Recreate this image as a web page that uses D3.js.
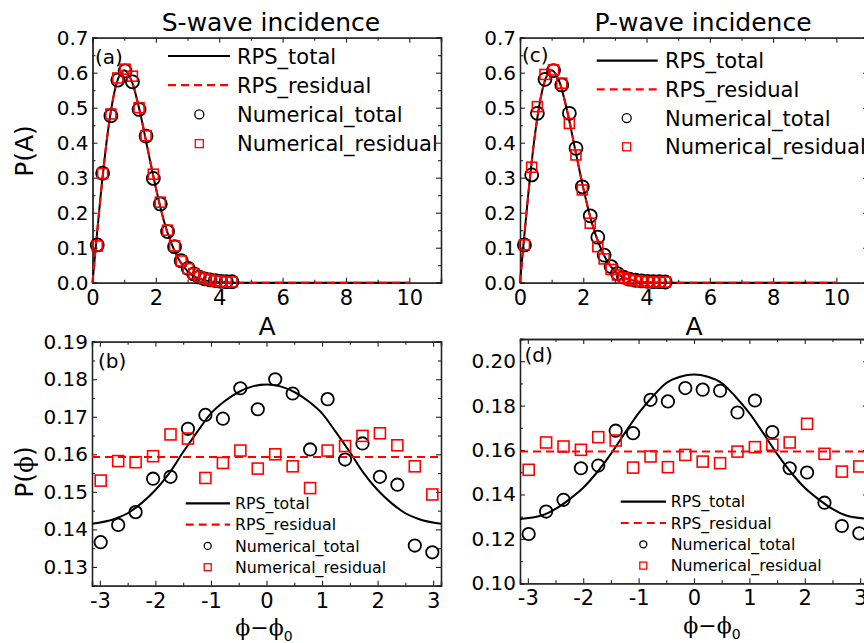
<!DOCTYPE html>
<html>
<head>
<meta charset="utf-8">
<script src="https://cdn.jsdelivr.net/npm/d3@7"></script>
<style>
  body { margin: 0; background: #fff; }
  svg { display: block; font-family: "DejaVu Sans", Arial, sans-serif; }
</style>
</head>
<body>
<svg id="chart"></svg>
<script>
// ---- data ----
const legendNames = ["RPS_total", "RPS_residual", "Numerical_total", "Numerical_residual"];

// amplitude distributions (a) S-wave, (c) P-wave
const curveA = [0, 0.1, 0.25, 0.5, 0.75, 1, 1.25, 1.5, 1.75, 2, 2.25, 2.5, 2.75, 3, 3.25, 3.5, 3.75, 4, 4.5, 5, 6, 7, 8, 9, 10];
const rpsTotalA = [0, 0.099, 0.242, 0.441, 0.566, 0.607, 0.573, 0.487, 0.378, 0.271, 0.178, 0.110, 0.063, 0.033, 0.016, 0.008, 0.003, 0.001, 0, 0, 0, 0, 0, 0, 0];
const rpsResidualA = [0, 0.099, 0.242, 0.441, 0.566, 0.607, 0.573, 0.487, 0.378, 0.271, 0.178, 0.110, 0.063, 0.033, 0.016, 0.008, 0.003, 0.001, 0, 0, 0, 0, 0, 0, 0];

const sA = [0.15, 0.32, 0.58, 0.80, 1.03, 1.26, 1.47, 1.69, 1.92, 2.14, 2.37, 2.59, 2.80, 3.02, 3.20, 3.37, 3.54, 3.71, 3.88, 4.05, 4.22, 4.40];
const sNumTotal = [0.108, 0.313, 0.477, 0.579, 0.605, 0.574, 0.495, 0.419, 0.298, 0.225, 0.146, 0.103, 0.063, 0.041, 0.025, 0.016, 0.011, 0.008, 0.006, 0.004, 0.003, 0.003];
const sNumResidual = [0.105, 0.312, 0.482, 0.585, 0.610, 0.590, 0.500, 0.420, 0.310, 0.230, 0.150, 0.105, 0.062, 0.040, 0.026, 0.017, 0.012, 0.008, 0.005, 0.004, 0.002, 0.002];

const pA = [0.14, 0.37, 0.55, 0.79, 1.06, 1.32, 1.56, 1.77, 1.97, 2.22, 2.46, 2.66, 2.88, 3.08, 3.27, 3.46, 3.65, 3.84, 4.03, 4.22, 4.41, 4.59];
const pNumTotal = [0.108, 0.308, 0.484, 0.581, 0.606, 0.565, 0.484, 0.384, 0.274, 0.191, 0.130, 0.079, 0.046, 0.026, 0.016, 0.010, 0.007, 0.005, 0.004, 0.003, 0.003, 0.002];
const pNumResidual = [0.108, 0.330, 0.503, 0.595, 0.608, 0.570, 0.455, 0.365, 0.265, 0.170, 0.103, 0.068, 0.038, 0.022, 0.014, 0.009, 0.006, 0.004, 0.003, 0.002, 0.002, 0.002];

// phase distributions (b) S-wave, (d) P-wave
const curvePhi = [-3.1416, -2.75, -2.5, -2.25, -2, -1.75, -1.5, -1.25, -1, -0.75, -0.5, -0.25, 0, 0.25, 0.5, 0.75, 1, 1.25, 1.5, 1.75, 2, 2.25, 2.5, 2.75, 3.1416];
const sRpsTotalPhi = [0.1415, 0.1427, 0.1443, 0.1470, 0.1505, 0.1550, 0.1606, 0.1659, 0.1709, 0.1742, 0.1766, 0.1781, 0.1786, 0.1781, 0.1766, 0.1742, 0.1709, 0.1659, 0.1606, 0.1550, 0.1505, 0.1470, 0.1443, 0.1427, 0.1415];
const pRpsTotalPhi = [0.1290, 0.1305, 0.1335, 0.1378, 0.1430, 0.1500, 0.1583, 0.1676, 0.1766, 0.1840, 0.1902, 0.1930, 0.1940, 0.1930, 0.1902, 0.1840, 0.1766, 0.1676, 0.1583, 0.1500, 0.1430, 0.1378, 0.1335, 0.1305, 0.1290];
const residualPhi = [-3.1416, 3.1416];
const sRpsResidualPhi = [0.1593, 0.1593];
const pRpsResidualPhi = [0.1593, 0.1593];

const phiBins = [-2.985, -2.670, -2.356, -2.042, -1.728, -1.414, -1.100, -0.785, -0.471, -0.157, 0.157, 0.471, 0.785, 1.100, 1.414, 1.728, 2.042, 2.356, 2.670, 2.985];
const sPhiNumTotal = [0.1366, 0.1412, 0.1446, 0.1535, 0.1540, 0.1668, 0.1705, 0.1695, 0.1776, 0.1720, 0.1800, 0.1762, 0.1613, 0.1747, 0.1586, 0.1629, 0.1540, 0.1519, 0.1357, 0.1339];
const sPhiNumResidual = [0.1530, 0.1582, 0.1579, 0.1595, 0.1653, 0.1642, 0.1537, 0.1577, 0.1610, 0.1562, 0.1600, 0.1568, 0.1510, 0.1610, 0.1622, 0.1649, 0.1656, 0.1624, 0.1568, 0.1493];
const pPhiNumTotal = [0.1222, 0.1323, 0.1376, 0.1518, 0.1530, 0.1687, 0.1676, 0.1826, 0.1819, 0.1879, 0.1872, 0.1867, 0.1769, 0.1823, 0.1681, 0.1518, 0.1499, 0.1363, 0.1258, 0.1225];
const pPhiNumResidual = [0.1511, 0.1634, 0.1616, 0.1601, 0.1658, 0.1643, 0.1521, 0.1571, 0.1523, 0.1578, 0.1548, 0.1541, 0.1593, 0.1613, 0.1624, 0.1634, 0.1718, 0.1583, 0.1503, 0.1526];

// ticks
const ampTicks = [0, 2, 4, 6, 8, 10];
const ampMinor = [1, 3, 5, 7, 9, 11];
const ampYTicks = [0, 0.1, 0.2, 0.3, 0.4, 0.5, 0.6, 0.7];
const ampYMinor = [0.05, 0.15, 0.25, 0.35, 0.45, 0.55, 0.65];
const phiTicks = [-3, -2, -1, 0, 1, 2, 3];
const phiMinor = [-2.5, -1.5, -0.5, 0.5, 1.5, 2.5];
const bYTicks = [0.13, 0.14, 0.15, 0.16, 0.17, 0.18, 0.19];
const bYMinor = [0.135, 0.145, 0.155, 0.165, 0.175, 0.185];
const dYTicks = [0.10, 0.12, 0.14, 0.16, 0.18, 0.20];
const dYMinor = [0.11, 0.13, 0.15, 0.17, 0.19];

// ---- drawing ----
const W = 864, H = 643;
const RED = "#ff0000";
const SANS = '"DejaVu Sans", Arial, sans-serif';
const SERIF = '"DejaVu Serif", "Liberation Serif", serif';
const svg = d3.select("#chart").attr("width", W).attr("height", H);
svg.append("rect").attr("width", W).attr("height", H).attr("fill", "#fff");

function panel(o) {
    const x = d3.scaleLinear().domain(o.xDomain).range([o.left, o.right]);
    const y = d3.scaleLinear().domain(o.yDomain).range([o.bottom, o.top]);
    const g = svg.append("g");

    const axis = (gen, pos, values, size, fmt, fs, pad) => {
        const a = g.append("g").attr("transform", pos)
            .call(gen.tickValues(values).tickSize(size).tickPadding(pad || 0).tickFormat(fmt || ""));
        a.select(".domain").attr("stroke", "#222").attr("stroke-width", 1.3);
        a.selectAll(".tick line").attr("stroke", "#222").attr("stroke-width", 1.1);
        a.selectAll("text").attr("font-size", fs || 0).attr("fill", "#000").style("font-family", SANS);
        return a;
    };
    // bottom / left carry the labels, top / right only ticks; all ticks point inward
    axis(d3.axisBottom(x), `translate(0,${o.bottom})`, o.xTicks, -5, d => String(d), 21, 7);
    axis(d3.axisBottom(x), `translate(0,${o.bottom})`, o.xMinor.filter(v => v <= o.xDomain[1]), -3);
    axis(d3.axisTop(x), `translate(0,${o.top})`, o.xTicks, -5);
    axis(d3.axisTop(x), `translate(0,${o.top})`, o.xMinor.filter(v => v <= o.xDomain[1]), -3);
    axis(d3.axisLeft(y), `translate(${o.left},0)`, o.yTicks, -5, d3.format(o.yFmt), 20, 4);
    axis(d3.axisLeft(y), `translate(${o.left},0)`, o.yMinor, -3);
    axis(d3.axisRight(y), `translate(${o.right},0)`, o.yTicks, -5);
    axis(d3.axisRight(y), `translate(${o.right},0)`, o.yMinor, -3);

    const line = d3.line().x(d => x(d[0])).y(d => y(d[1])).curve(d3.curveMonotoneX);
    g.append("path").attr("d", line(d3.zip(o.curveX, o.total)))
        .attr("fill", "none").attr("stroke", "#000").attr("stroke-width", 2);
    g.append("path").attr("d", line(d3.zip(o.resX, o.residual)))
        .attr("fill", "none").attr("stroke", RED).attr("stroke-width", 2)
        .attr("stroke-dasharray", "8,5");

    g.append("g").selectAll("circle").data(d3.zip(o.numTotalX, o.numTotal)).join("circle")
        .attr("cx", d => x(d[0])).attr("cy", d => y(d[1])).attr("r", o.r)
        .attr("fill", "none").attr("stroke", "#000").attr("stroke-width", 1.8);
    g.append("g").selectAll("rect").data(d3.zip(o.numResX, o.numRes)).join("rect")
        .attr("x", d => x(d[0]) - o.sq / 2).attr("y", d => y(d[1]) - o.sq / 2)
        .attr("width", o.sq).attr("height", o.sq)
        .attr("fill", "none").attr("stroke", RED).attr("stroke-width", 1.6);

    // panel tag
    g.append("text").attr("x", o.tag[1]).attr("y", o.tag[2]).attr("font-size", 20).text(o.tag[0]);

    // legend
    const L = o.legend;
    legendNames.forEach((name, i) => {
        const ly = L.y + i * L.dy;
        if (i === 0) g.append("line").attr("x1", L.x0).attr("x2", L.x1).attr("y1", ly).attr("y2", ly)
            .attr("stroke", "#000").attr("stroke-width", 2.2);
        if (i === 1) g.append("line").attr("x1", L.x0).attr("x2", L.x1).attr("y1", ly).attr("y2", ly)
            .attr("stroke", RED).attr("stroke-width", 2.2).attr("stroke-dasharray", "8,5");
        if (i === 2) g.append("circle").attr("cx", L.mx).attr("cy", ly).attr("r", L.r)
            .attr("fill", "none").attr("stroke", "#000").attr("stroke-width", 1.3);
        if (i === 3) g.append("rect").attr("x", L.mx - L.sq / 2).attr("y", ly - L.sq / 2)
            .attr("width", L.sq).attr("height", L.sq)
            .attr("fill", "none").attr("stroke", RED).attr("stroke-width", 1.3);
        g.append("text").attr("x", L.tx).attr("y", ly).attr("dy", "0.36em")
            .attr("font-size", L.fs).text(name);
    });
    return { x, y };
}

const ampCommon = {
    xDomain: [0, 11], yDomain: [0, 0.7], top: 37.7, bottom: 282.7,
    xTicks: ampTicks, xMinor: ampMinor, yTicks: ampYTicks, yMinor: ampYMinor, yFmt: ".1f",
    curveX: curveA, total: rpsTotalA, resX: curveA, residual: rpsResidualA, r: 6.5, sq: 10
};
panel(Object.assign({}, ampCommon, {
    left: 92.5, right: 441,
    numTotalX: sA, numTotal: sNumTotal, numResX: sA, numRes: sNumResidual,
    tag: ["(a)", 95, 64],
    legend: { x0: 168, x1: 230, mx: 199.3, tx: 237, y: 56, dy: 29.2, r: 4.5, sq: 8, fs: 21 }
}));
panel(Object.assign({}, ampCommon, {
    left: 520, right: 868,
    numTotalX: pA, numTotal: pNumTotal, numResX: pA, numRes: pNumResidual,
    tag: ["(c)", 522, 62],
    legend: { x0: 596.7, x1: 657.7, mx: 626.7, tx: 665, y: 60.7, dy: 28.7, r: 4.5, sq: 8, fs: 21 }
}));
panel({
    xDomain: [-Math.PI, Math.PI], yDomain: [0.125, 0.19], left: 92, right: 441, top: 341.7, bottom: 585.7,
    xTicks: phiTicks, xMinor: phiMinor, yTicks: bYTicks, yMinor: bYMinor, yFmt: ".2f",
    curveX: curvePhi, total: sRpsTotalPhi, resX: residualPhi, residual: sRpsResidualPhi,
    numTotalX: phiBins, numTotal: sPhiNumTotal, numResX: phiBins, numRes: sPhiNumResidual,
    r: 6.2, sq: 11,
    tag: ["(b)", 98, 368],
    legend: { x0: 185.7, x1: 230, mx: 207.7, tx: 235, y: 503.3, dy: 21.3, r: 3.5, sq: 7, fs: 15.8 }
});
panel({
    xDomain: [-Math.PI, Math.PI], yDomain: [0.10, 0.21], left: 520, right: 868, top: 339, bottom: 583.3,
    xTicks: phiTicks, xMinor: phiMinor, yTicks: dYTicks, yMinor: dYMinor, yFmt: ".2f",
    curveX: curvePhi, total: pRpsTotalPhi, resX: residualPhi, residual: pRpsResidualPhi,
    numTotalX: phiBins, numTotal: pPhiNumTotal, numResX: phiBins, numRes: pPhiNumResidual,
    r: 6.2, sq: 11,
    tag: ["(d)", 524.5, 362],
    legend: { x0: 620.7, x1: 666, mx: 643.3, tx: 670.7, y: 501.7, dy: 21.3, r: 3.5, sq: 7, fs: 15.8 }
});

// titles and axis labels
const txt = (x, y, s, fs) => svg.append("text").attr("x", x).attr("y", y)
    .attr("font-size", fs).attr("text-anchor", "middle").text(s);
txt(271, 30.5, "S-wave incidence", 25);
txt(703, 30.5, "P-wave incidence", 25);
txt(267, 335, "A", 25);
txt(694, 335, "A", 25);
txt(0, 0, "P(A)", 25).attr("transform", "translate(33,151) rotate(-90)");

const pphi = svg.append("text").attr("font-size", 25).attr("text-anchor", "middle")
    .attr("transform", "translate(33,472) rotate(-90)");
pphi.append("tspan").text("P(");
pphi.append("tspan").style("font-family", SERIF).text("\u03d5");
pphi.append("tspan").text(")");

function phiLabel(cx, y) {
    const t = svg.append("text").attr("x", cx).attr("y", y).attr("font-size", 22)
        .attr("text-anchor", "middle").style("font-family", SERIF);
    t.append("tspan").text("\u03d5\u2212\u03d5");
    t.append("tspan").attr("font-size", 14).attr("dy", 6).style("font-family", SANS).text("0");
}
phiLabel(264, 635);
phiLabel(712, 633);
</script>
</body>
</html>
